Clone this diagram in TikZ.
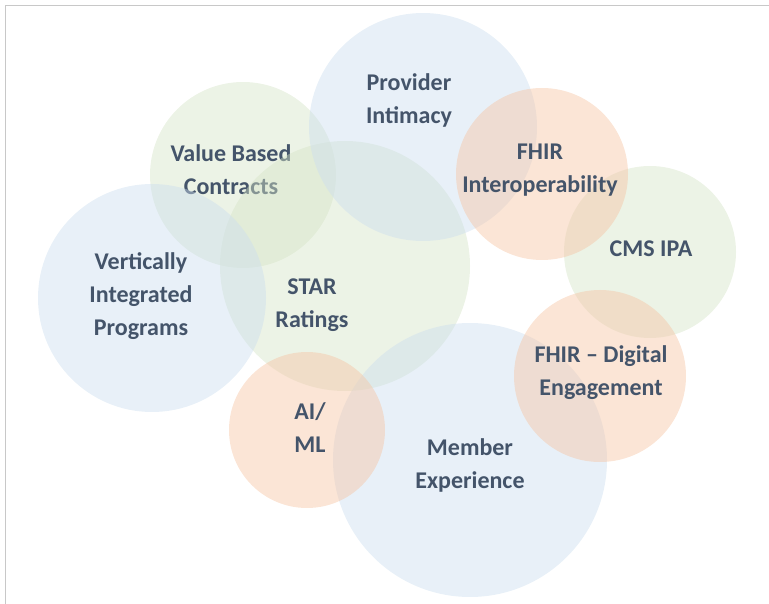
\documentclass[tikz,border=0pt]{standalone}
\usepackage{fontspec}
\setmainfont{Carlito}
\definecolor{bubbleblue}{RGB}{204,222,239}
\definecolor{bubblegreen}{RGB}{213,228,199}
\definecolor{bubbleorange}{RGB}{246,197,164}
\definecolor{labelgray}{RGB}{68,84,106}
\definecolor{framegray}{RGB}{200,200,200}
\begin{document}
\begin{tikzpicture}
[x=1pt,y=-1pt,
 bubbledecorate/.style={shape=circle,inner sep=0pt,fill opacity=0.45},%
 labeldecorate/.style={align=center,text=labelgray,%
   font=\fontsize{24}{33}\selectfont\bfseries}]
\useasboundingbox (0,0) rectangle (769,604);
%% frame
\draw[framegray,line width=1.5pt] (5.5,604) -- (5.5,5.5) -- (769,5.5);
%% bubbles and labels
\foreach \name/\x/\y/\r/\colour/\tx/\ty/\txt in {
  vbc/243/175/93/bubblegreen/231/170/Value Based\\Contracts,
  star/345/266/125/bubblegreen/312/305/STAR\\Ratings,
  vip/152/298/114/bubbleblue/141/296/Vertically\\Integrated\\Programs,
  prov/423/127/114/bubbleblue/409/100/Provider\\Intimacy,
  cms/650/252/86/bubblegreen/651/249/CMS IPA,
  interop/542/174/86/bubbleorange/540/170/FHIR\\Interoperability,
  member/470/460/137/bubbleblue/470/465/Member\\Experience,
  digital/600/376/86/bubbleorange/601/373/FHIR – Digital\\Engagement,
  aiml/307/430/78/bubbleorange/310/428/AI\slash\\ML}
{
  \node (\name) at (\x,\y) [bubbledecorate,fill=\colour,minimum size=2*\r pt] {};
  \node (\name label) at (\tx,\ty) [labeldecorate] {\txt};
}
\end{tikzpicture}
\end{document}
